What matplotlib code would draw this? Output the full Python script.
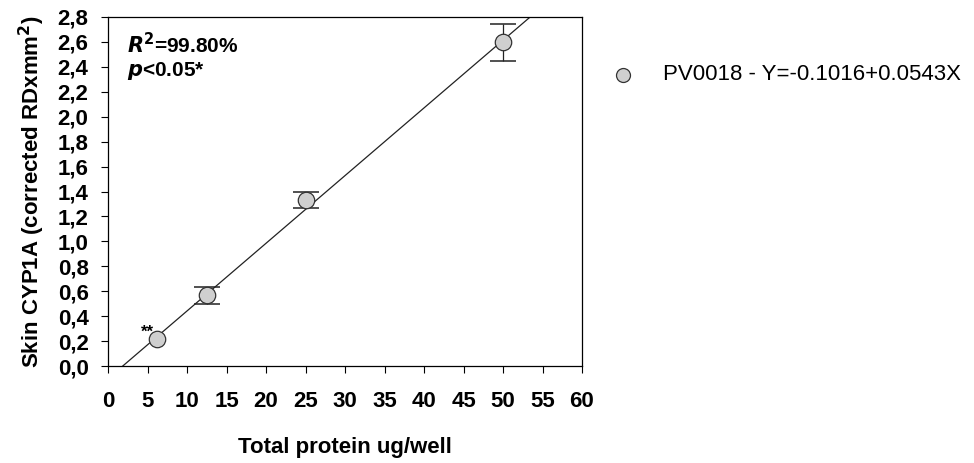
import numpy as np
import matplotlib
matplotlib.use("Agg")
import matplotlib.pyplot as plt
from matplotlib.ticker import FuncFormatter

plt.rcParams['font.family'] = ['Liberation Sans', 'DejaVu Sans']

# protein load per well and measured CYP1A signal
protein = [6.25, 12.5, 25, 50]
cyp1a = [0.22, 0.57, 1.33, 2.60]
err_low = [0.0, 0.07, 0.06, 0.15]
err_high = [0.0, 0.06, 0.07, 0.14]

# linear fit reported in the legend
intercept = -0.1016
slope = 0.0543

fig = plt.figure(figsize=(9.74, 4.63), dpi=100)
ax = fig.add_axes([108 / 974, 1 - 366 / 463, 474 / 974, 349 / 463])

xfit = np.array([0, 60])
ax.plot(xfit, intercept + slope * xfit, color='#222222', lw=0.9, zorder=2)

# only the points that actually have a spread get error bars
has_err = [i for i in range(len(protein)) if err_low[i] > 0 or err_high[i] > 0]
ax.errorbar([protein[i] for i in has_err], [cyp1a[i] for i in has_err],
            yerr=[[err_low[i] for i in has_err], [err_high[i] for i in has_err]],
            fmt='none', ecolor='#222222', elinewidth=0.9, capsize=9.5,
            capthick=1.1, zorder=3)
ax.scatter(protein, cyp1a, s=140, facecolor='#cfcfcf', edgecolor='#333333',
           linewidth=0.9, zorder=4,
           label='PV0018 - Y=%.4f+%.4fX' % (intercept, slope))

ax.set_xlim(0, 60)
ax.set_ylim(0, 2.8)
ax.set_xticks(np.arange(0, 61, 5))
ax.set_yticks(np.arange(0, 2.81, 0.2))
ax.yaxis.set_major_formatter(FuncFormatter(lambda v, p: ('%.1f' % v).replace('.', ',')))
ax.tick_params(axis='both', direction='out', length=5, width=0.8, labelsize=16)
ax.tick_params(axis='x', pad=13)
ax.tick_params(axis='y', pad=9)
for lab in ax.get_xticklabels() + ax.get_yticklabels():
    lab.set_fontweight('bold')
for s in ax.spines.values():
    s.set_linewidth(0.9)

ax.set_xlabel('Total protein ug/well', fontsize=16, fontweight='bold', labelpad=18)
ax.set_ylabel('Skin CYP1A (corrected RDxmm$^\\mathbf{2}$)', fontsize=16,
              fontweight='bold', labelpad=8)

ax.text(0.04, 0.92, r'$\mathbfit{R}^\mathbf{2}$=99.80%', transform=ax.transAxes,
        fontsize=15, fontweight='bold', va='center')
ax.text(0.04, 0.845, r'$\mathbfit{p}$<0.05*', transform=ax.transAxes,
        fontsize=15, fontweight='bold', va='center')
ax.text(6.25 - 0.5, 0.27, '**', fontsize=12, fontweight='bold',
        ha='right', va='center')

ax.legend(loc='center left', bbox_to_anchor=(612 / 974, 1 - 75 / 463),
          bbox_transform=fig.transFigure, frameon=False, fontsize=16,
          borderpad=0, borderaxespad=0, handlelength=1.0, handletextpad=1.3,
          scatterpoints=1, markerscale=0.85)

fig.savefig('out.png', dpi=100)
